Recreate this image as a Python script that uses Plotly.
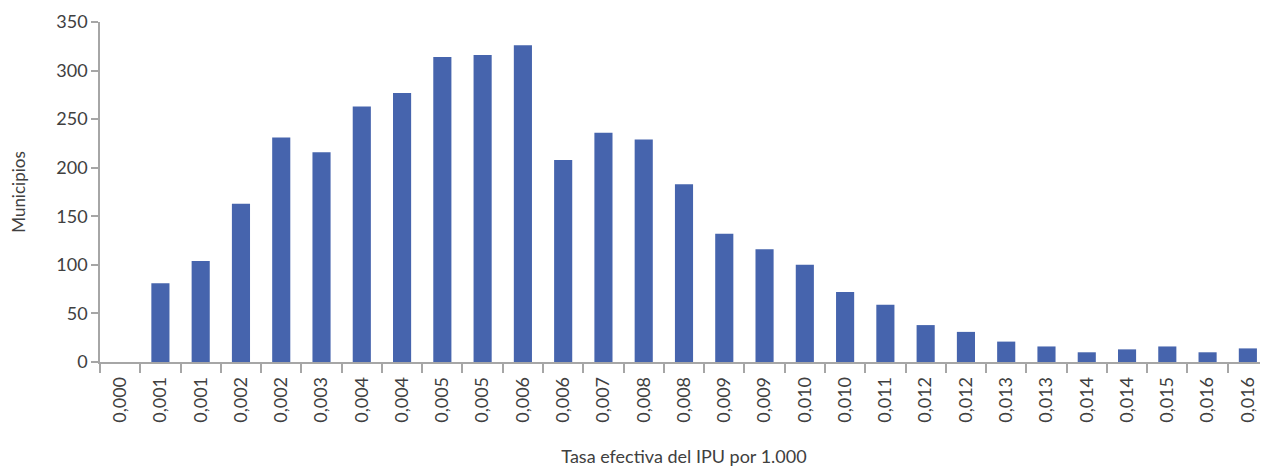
import plotly.graph_objects as go

categories = ["0,000", "0,001", "0,001", "0,002", "0,002", "0,003", "0,004", "0,004",
              "0,005", "0,005", "0,006", "0,006", "0,007", "0,008", "0,008", "0,009",
              "0,009", "0,010", "0,010", "0,011", "0,012", "0,012", "0,013", "0,013",
              "0,014", "0,014", "0,015", "0,016", "0,016"]
municipios = [0, 81, 104, 163, 231, 216, 263, 277, 314, 316, 326, 208, 236, 229, 183,
              132, 116, 100, 72, 59, 38, 31, 21, 16, 10, 13, 16, 10, 14]
y_ticks = [0, 50, 100, 150, 200, 250, 300, 350]

x_pos = list(range(len(categories)))
boundaries = [i - 0.5 for i in range(len(categories) + 1)]

FONT = "Lato, Roboto, sans-serif"
TXT = "#404040"
AX = "#a6a6a6"

fig = go.Figure(go.Bar(
    x=x_pos, y=municipios,
    marker=dict(color="#4664ad", line=dict(width=0)),
))

fig.update_layout(
    width=1260, height=459,
    margin=dict(l=92, r=0, t=14, b=105),
    paper_bgcolor="white", plot_bgcolor="white",
    bargap=0.55, showlegend=False,
    font=dict(family=FONT, color=TXT, size=18),
)
fig.update_xaxes(
    range=[-0.5, len(categories) - 0.5], automargin=False,
    tickmode="array", tickvals=x_pos, ticktext=categories,
    tickangle=-90, ticks="", showgrid=False, zeroline=False,
    ticklabelstandoff=6,
    showline=True, linecolor=AX, linewidth=1.5,
    tickfont=dict(family=FONT, size=18, color=TXT),
    minor=dict(tickvals=boundaries, ticks="outside", ticklen=9, tickcolor=AX, tickwidth=1.5, showgrid=False),
    title=dict(text="Tasa efectiva del IPU por 1.000", font=dict(family=FONT, size=18, color=TXT), standoff=32),
)
fig.update_yaxes(
    range=[0, 350], tickmode="array", tickvals=y_ticks, automargin=False,
    ticks="outside", ticklen=7, tickcolor=AX, tickwidth=1.5,
    showgrid=False, zeroline=False,
    showline=True, linecolor=AX, linewidth=1.5,
    tickfont=dict(family=FONT, size=18, color=TXT),
    title=dict(text="Municipios", font=dict(family=FONT, size=17, color=TXT), standoff=28),
)

fig.write_html("out.html")
